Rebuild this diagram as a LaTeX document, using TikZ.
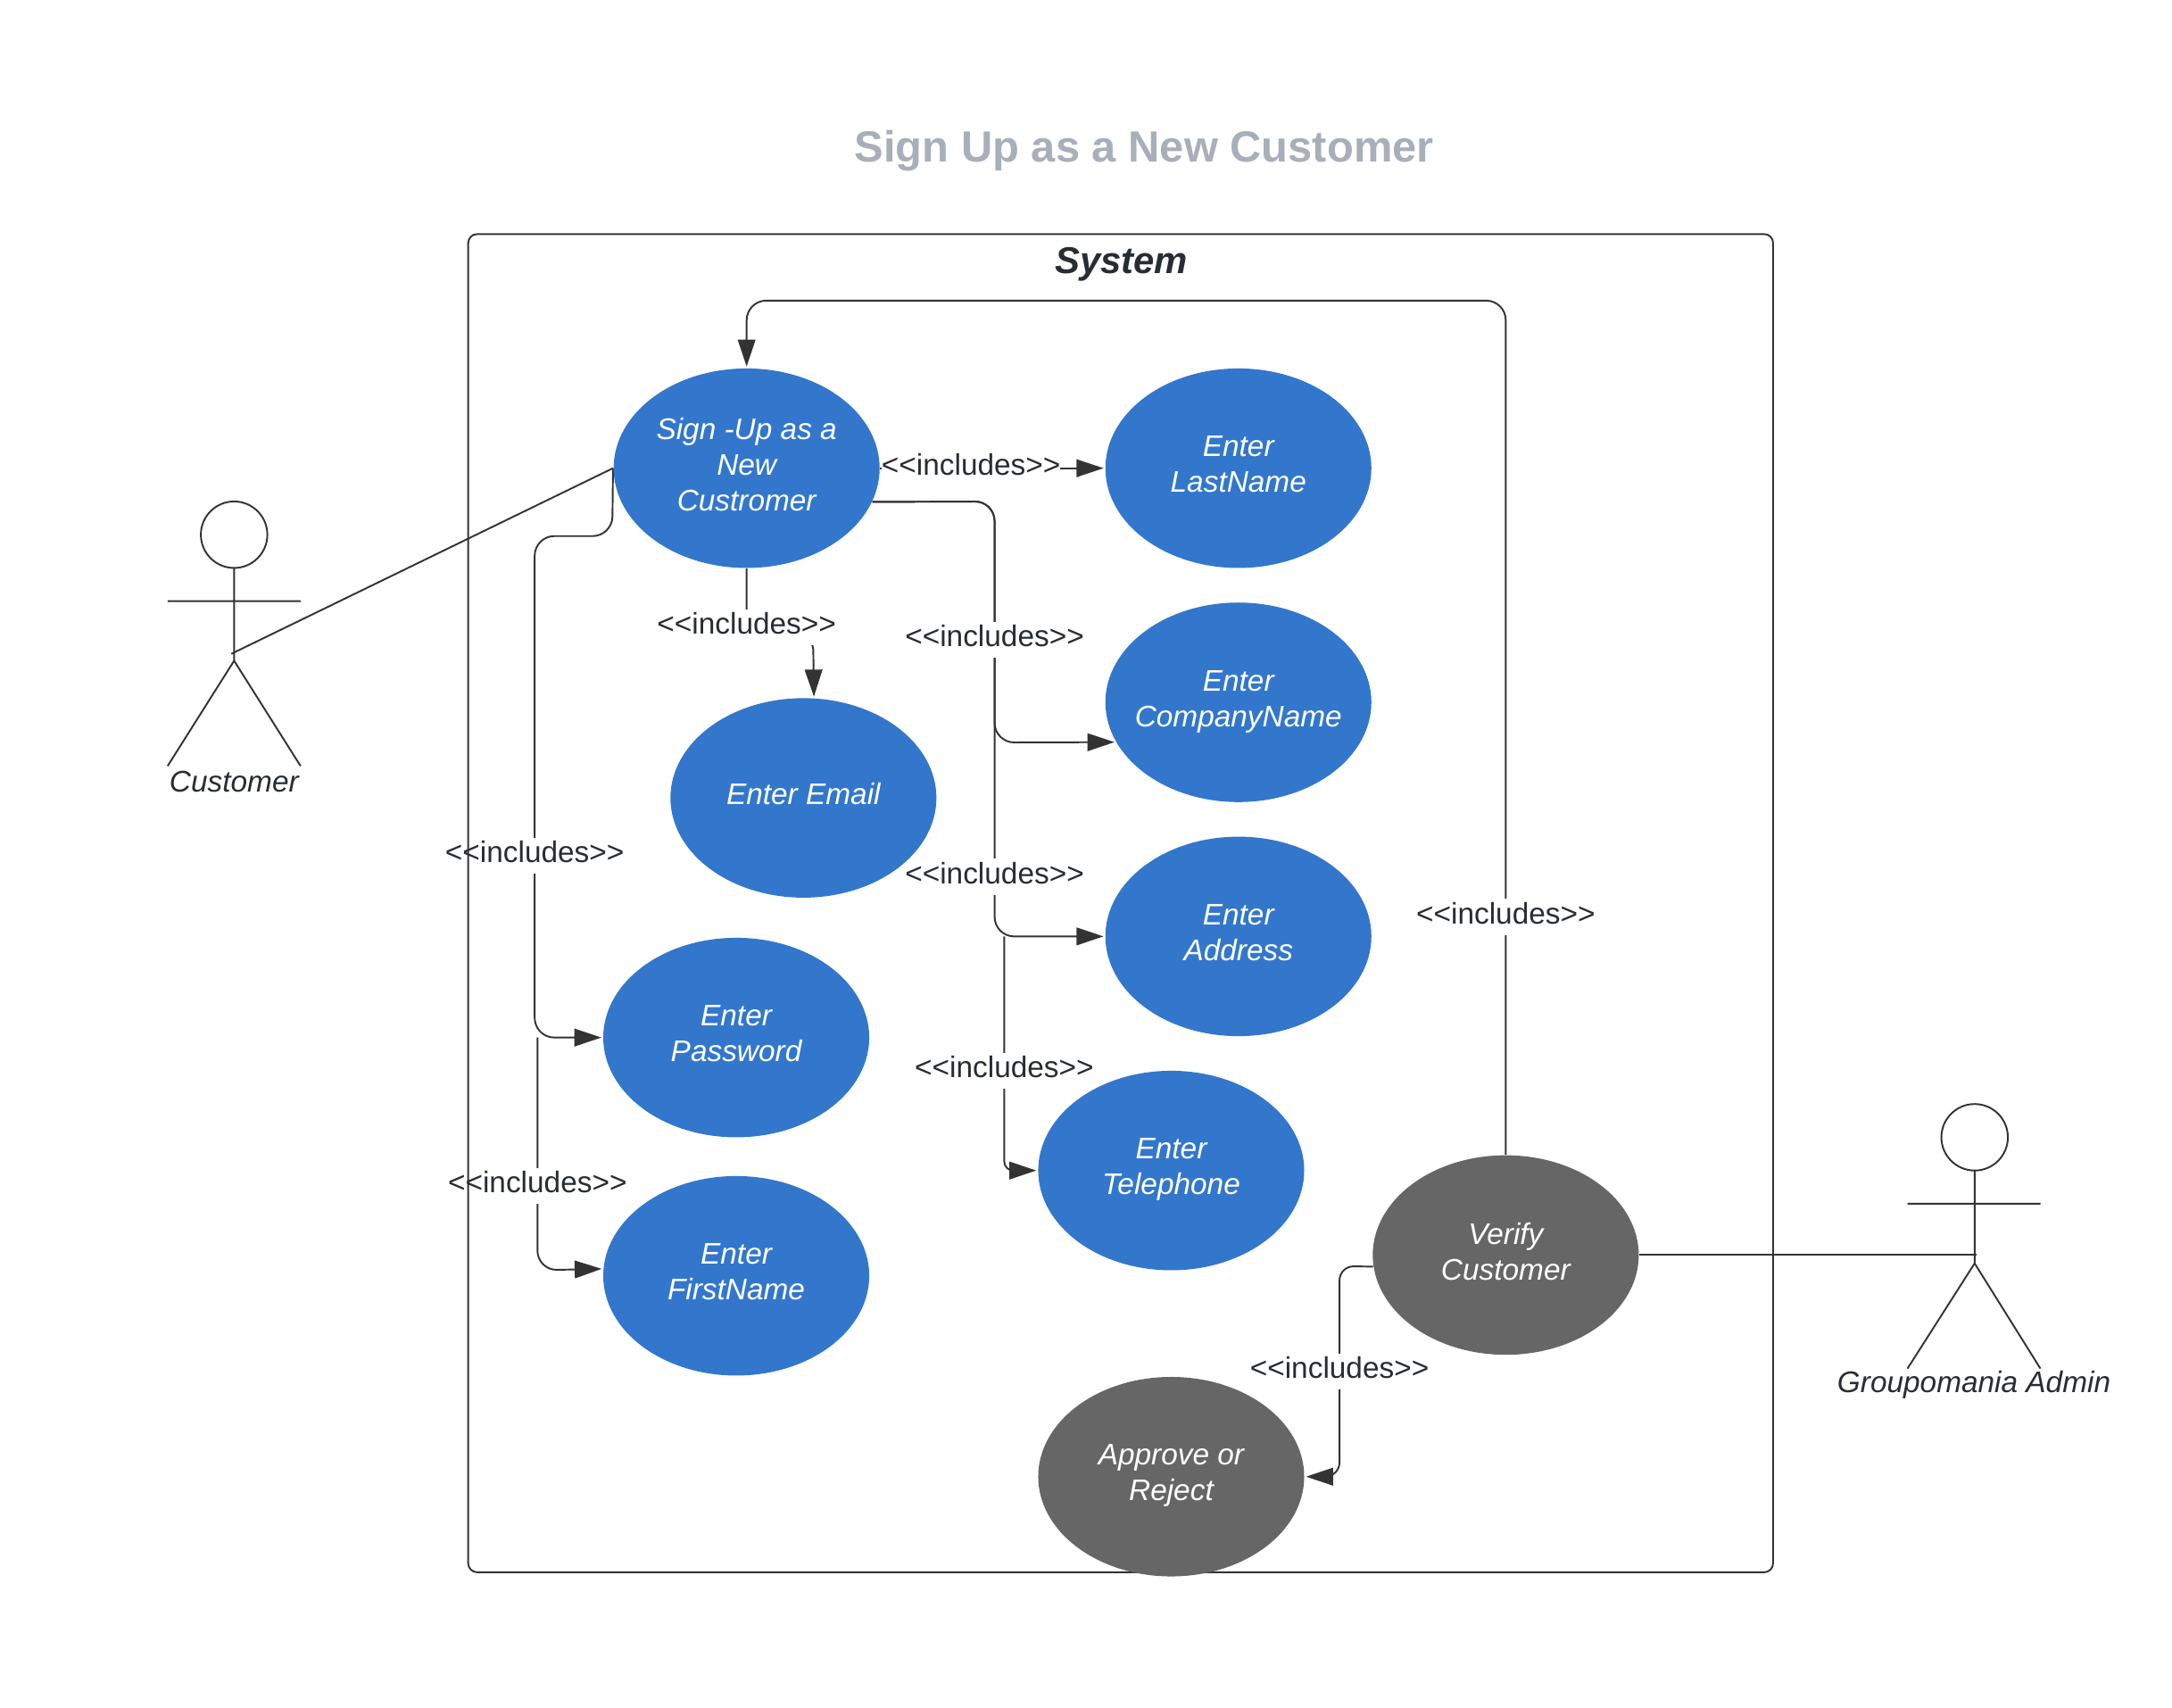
\documentclass[tikz,border=0pt]{standalone}
\usepackage{fontspec}
\setmainfont{Liberation Sans}
\usetikzlibrary{shapes.geometric,arrows.meta,backgrounds}
\definecolor{caseblue}{HTML}{3277CB}
\definecolor{casegray}{HTML}{666666}
\definecolor{inkdark}{HTML}{282C33}
\definecolor{linedark}{HTML}{333333}
\definecolor{titlegray}{HTML}{A9AFB8}
\newcommand{\incltext}{<\kern0pt<includes>\kern0pt>}
\tikzset{
  usecase/.style={ellipse,minimum width=29.8mm,minimum height=22.35mm,inner sep=0pt,text=white,align=center,font=\fontsize{9.5}{11.4}\selectfont\itshape,execute at end node={\rule[-2.5pt]{0pt}{0pt}}},
  blue case/.style={usecase,fill=caseblue},
  gray case/.style={usecase,fill=casegray},
  incl/.style={fill=white,inner xsep=0pt,inner ysep=0pt,minimum height=4.03mm,text=inkdark,font=\fontsize{9.5}{11.4}\selectfont,execute at end node={\rule[-2.6pt]{0pt}{0pt}}},
  actor name/.style={text=inkdark,inner sep=0pt,font=\fontsize{9.5}{11.4}\selectfont\itshape},
  link/.style={draw=linedark,line width=0.55pt,rounded corners=2.2mm},
  arrowlink/.style={link,-{Triangle[length=8.6pt,width=5.6pt]},shorten >=0.4pt},
}
\begin{document}
\begin{tikzpicture}[x=0.1552mm,y=-0.1552mm]
\useasboundingbox (0,0) rectangle (1568,1232.6);

\node[inner sep=0pt,text=titlegray,font=\fontsize{13.9}{17}\selectfont\bfseries] (title) at (826,109) {Sign Up as a New Customer};
\node[inner sep=0pt,text=inkdark,font=\fontsize{11.9}{15}\selectfont\bfseries\itshape] (system) at (809.5,191) {System};

% use cases
\node[blue case] (signup) at (539,338) {Sign -Up as a\\New\\Custromer};
\node[blue case] (lastname) at (894,338) {Enter\\LastName};
\node[blue case] (company) at (894,507) {Enter\\\makebox[0pt]{CompanyName}};
\node[blue case] (address) at (894,676) {Enter\\Address};
\node[blue case] (telephone) at (845.5,845) {Enter\\Telephone};
\node[blue case] (email) at (580,576) {Enter Email};
\node[blue case] (password) at (531.5,749) {Enter\\Password};
\node[blue case] (firstname) at (531.5,921) {Enter\\FirstName};
\node[gray case] (verify) at (1087,906) {Verify\\Customer};
\node[gray case] (approve) at (845.5,1066) {Approve or\\Reject};

% actors
\draw[linedark,line width=0.55pt] (169,386) circle (24) (169,410) -- (169,477) (121,434) -- (217,434) (121,553) -- (169,477) -- (217,553);
\draw[linedark,line width=0.55pt] (1425.5,821) circle (24) (1425.5,845) -- (1425.5,912) (1377,869) -- (1473,869) (1377,988) -- (1425.5,912) -- (1473,988);
\node[actor name] (customer) at (169,564) {Customer};
\node[actor name] (admin) at (1425,999.5) {Groupomania Admin};

\coordinate (customerhip) at (167,472);
\coordinate (adminhip) at (1427,906);
\coordinate (passbranch) at (388,749);
\coordinate (addrbranch) at (725,676);

\begin{pgfonlayer}{background}
\draw[link] (signup.west) -- (customerhip);
\draw[link] (verify.east) -- (adminhip);
\draw[arrowlink] (signup.180) -- (442,387) -- (386,387) -- (386,749) -- (password.west);
\draw[arrowlink] (passbranch) -- (388,917) -- (firstname.177);
\draw[arrowlink] (signup.east) -- (lastname.west);
\draw[arrowlink,rounded corners=1.2mm] (signup.south) -- (539,461) -- (587,461) -- (email.84.5);
\draw[arrowlink] (signup.-15) -- (718,362) -- (718,536) -- (company.-162);
\draw[arrowlink] (signup.-15) -- (718,362) -- (718,676) -- (address.west);
\draw[arrowlink,rounded corners=1mm] (addrbranch) -- (725,845) -- (telephone.west);
\draw[arrowlink] (verify.north) -- (1087,217) -- (539,217) -- (signup.north);
\draw[arrowlink,rounded corners=1.6mm] (verify.185) -- (967,914) -- (967,1066) -- (approve.east);

\node[incl] (inclast) at (701,338) {\incltext};
\node[incl] (incemail) at (539,453) {\incltext};
\node[incl] (inccomp) at (718,462) {\incltext};
\node[incl] (incaddr) at (718,633) {\incltext};
\node[incl] (inctel) at (725,773) {\incltext};
\node[incl] (incpass) at (386,618) {\incltext};
\node[incl] (incfirst) at (388,856) {\incltext};
\node[incl] (incverify) at (1087,662) {\incltext};
\node[incl] (incappr) at (967,990) {\incltext};

\draw[linedark,line width=0.55pt,rounded corners=1mm] (338,169) rectangle (1280,1135);
\end{pgfonlayer}
\end{tikzpicture}
\end{document}
